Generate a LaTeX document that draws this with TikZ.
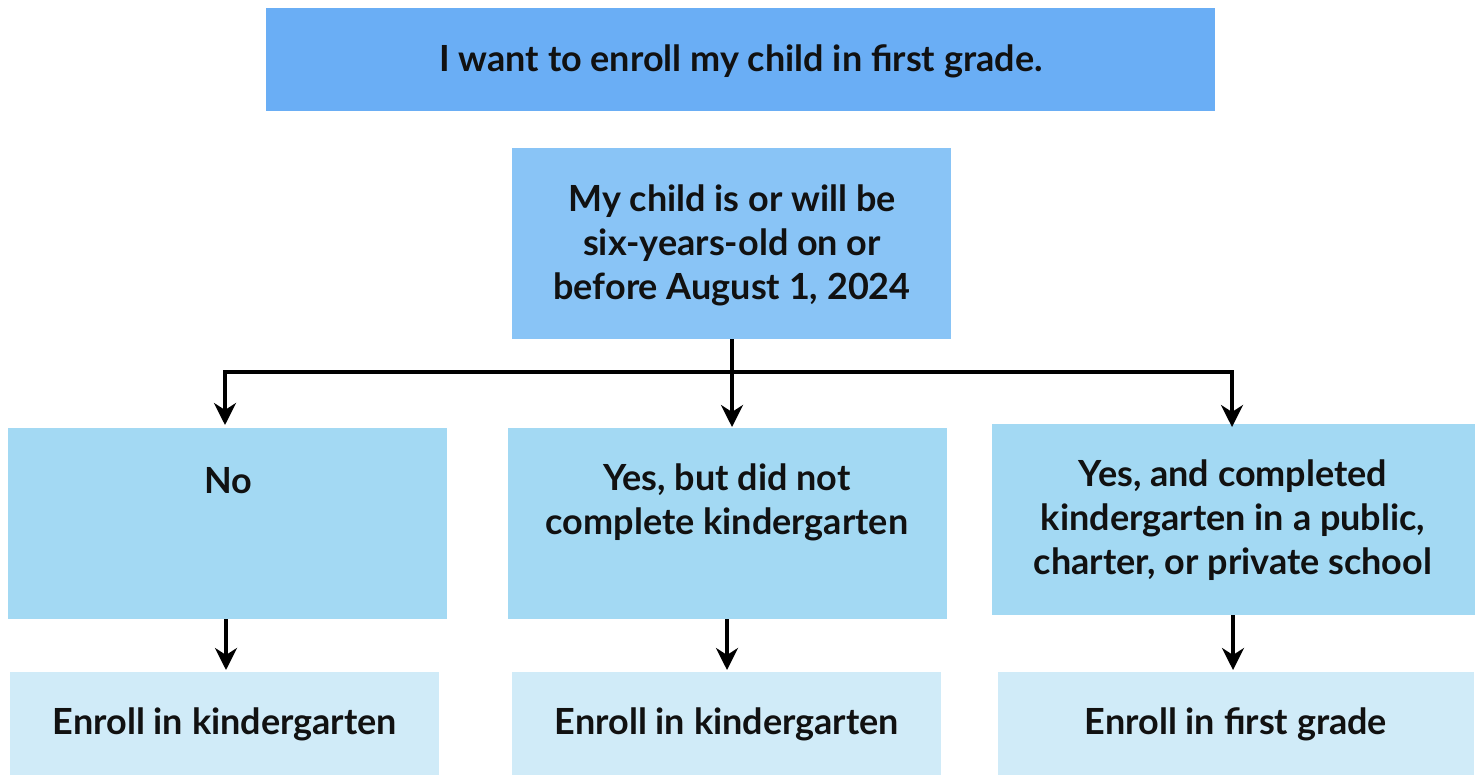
\documentclass[tikz,border=0pt]{standalone}
\usepackage{fontspec}
\setmainfont{Lato}
\usetikzlibrary{arrows.meta}
\definecolor{ctitle}{HTML}{6AAEF5}
\definecolor{cq}{HTML}{89C4F6}
\definecolor{cmid}{HTML}{A3D9F3}
\definecolor{clow}{HTML}{D0EBF8}
\definecolor{ctext}{HTML}{111111}
\tikzset{
  box/.style={inner sep=0pt, outer sep=0pt, anchor=north west},
  lbl/.style={font=\fontsize{36}{44}\selectfont\bfseries, text=ctext, align=center, inner sep=0pt},
  conn/.style={line width=3.5pt, -{Stealth[length=22pt,width=22pt,inset=7pt]}},
  bar/.style={line width=4pt},
}
\begin{document}
\begin{tikzpicture}[x=1pt,y=-1pt]
\useasboundingbox (0,0) rectangle (1480,776);
% boxes
\node[box, fill=ctitle, minimum width=949pt, minimum height=103pt] (title) at (266,8) {};
\node[box, fill=cq, minimum width=439pt, minimum height=191pt] (q) at (512,148) {};
\node[box, fill=cmid, minimum width=439pt, minimum height=191pt] (a1) at (8,428) {};
\node[box, fill=cmid, minimum width=439pt, minimum height=191pt] (a2) at (508,428) {};
\node[box, fill=cmid, minimum width=483pt, minimum height=191pt] (a3) at (992,424) {};
\node[box, fill=clow, minimum width=429pt, minimum height=103pt] (b1) at (10,672) {};
\node[box, fill=clow, minimum width=429pt, minimum height=103pt] (b2) at (512,672) {};
\node[box, fill=clow, minimum width=476pt, minimum height=103pt] (b3) at (998,672) {};
% texts
\node[lbl] (ttitle) at (741,61) {I want to enroll my child in first grade.};
\node[lbl] (tq) at (732,245) {My child is or will be\\six-years-old on or\\before August 1, 2024};
\node[lbl] (ta1) at (228,481) {No};
\node[lbl] (ta2) at (727,502.5) {Yes, but did not\\complete kindergarten};
\node[lbl] (ta3) at (1233,520) {Yes, and completed\\kindergarten in a public,\\charter, or private school};
\node[lbl] (tb1) at (225,724) {Enroll in kindergarten};
\node[lbl] (tb2) at (727,724) {Enroll in kindergarten};
\node[lbl] (tb3) at (1236,724) {Enroll in first grade};
% connectors
\coordinate (j) at (732,372);
\coordinate (jl) at (225,372);
\coordinate (jr) at (1232,372);
\coordinate (e1) at (225,425);
\coordinate (e2) at (732,427);
\coordinate (e3) at (1232,427);
\draw[bar] (q.south -| j) -- (j);
\draw[bar, line cap=rect] (jl) -- (jr);
\draw[conn] (jl) -- (e1);
\draw[conn] (j) -- (e2);
\draw[conn] (jr) -- (e3);
\coordinate (f1) at (226,670);
\coordinate (f2) at (727,670);
\coordinate (f3) at (1233,670);
\draw[conn] (a1.south -| f1) -- (f1);
\draw[conn] (a2.south -| f2) -- (f2);
\draw[conn] (a3.south -| f3) -- (f3);
\end{tikzpicture}
\end{document}
